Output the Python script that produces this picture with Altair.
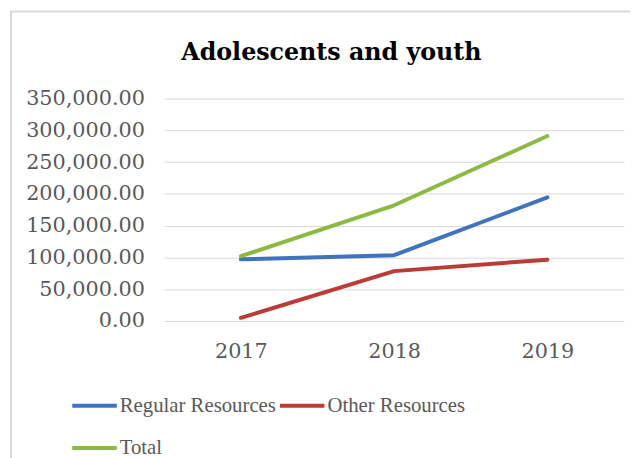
import altair as alt
import pandas as pd

years = ["2017", "2018", "2019"]
regular = [97000, 103500, 194500]
other = [5000, 78500, 96500]
total = [102000, 182000, 291000]
series_names = ["Regular Resources", "Other Resources", "Total"]
series_colors = ["#3F72C0", "#BD3B35", "#8DB843"]
y_ticks = [0, 50000, 100000, 150000, 200000, 250000, 300000, 350000]
title_text = "Adolescents and youth"

rows = []
for name, vals in zip(series_names, [regular, other, total]):
    for yr, v in zip(years, vals):
        rows.append({"Year": yr, "Value": v, "Series": name})
df = pd.DataFrame(rows)
one = pd.DataFrame({"a": [0]})

border = alt.Chart(one).mark_rect(
    fillOpacity=0, stroke="#d9d9d9", strokeWidth=2
).encode(
    x=alt.value(-155), x2=alt.value(490), y=alt.value(-88), y2=alt.value(420)
)

title = alt.Chart(one).mark_text(
    text=title_text, font="DejaVu Serif", fontWeight="bold", fontSize=24,
    baseline="alphabetic", align="center", color="#000000"
).encode(x=alt.value(169), y=alt.value(-39))

lines = alt.Chart(df).mark_line(
    strokeWidth=4, strokeCap="round", strokeJoin="round"
).encode(
    x=alt.X("Year:O", sort=years, scale=alt.Scale(padding=0.5),
            axis=alt.Axis(title=None, labelAngle=0, grid=False, domain=False, ticks=False,
                          labelPadding=20)),
    y=alt.Y("Value:Q", scale=alt.Scale(domain=[0, 350000], nice=False),
            axis=alt.Axis(title=None, values=y_ticks, format=",.2f", grid=True,
                          domain=False, ticks=False, labelPadding=20)),
    color=alt.Color("Series:N", sort=series_names,
                    scale=alt.Scale(domain=series_names, range=series_colors),
                    legend=alt.Legend(title=None, orient="none", legendX=-95, legendY=286,
                                      direction="horizontal",
                                      columns=2, symbolType="stroke", symbolSize=2025,
                                      symbolStrokeWidth=4, labelOffset=1, columnPadding=-5,
                                      rowPadding=8, padding=0)),
)

chart = alt.layer(border, title, lines).properties(
    width=465, height=225,
    autosize=alt.AutoSizeParams(type="none"),
    padding={"left": 158, "top": 89, "right": 6, "bottom": 136},
).configure_view(stroke=None).configure_axis(
    labelFont="DejaVu Serif", labelFontSize=21, labelColor="#595959",
    gridColor="#d9d9d9", gridWidth=1
).configure_legend(
    labelFont="Liberation Serif", labelFontSize=21, labelColor="#595959", labelLimit=0
)

chart.save("out.html", embed_options={"renderer": "svg", "actions": False})
